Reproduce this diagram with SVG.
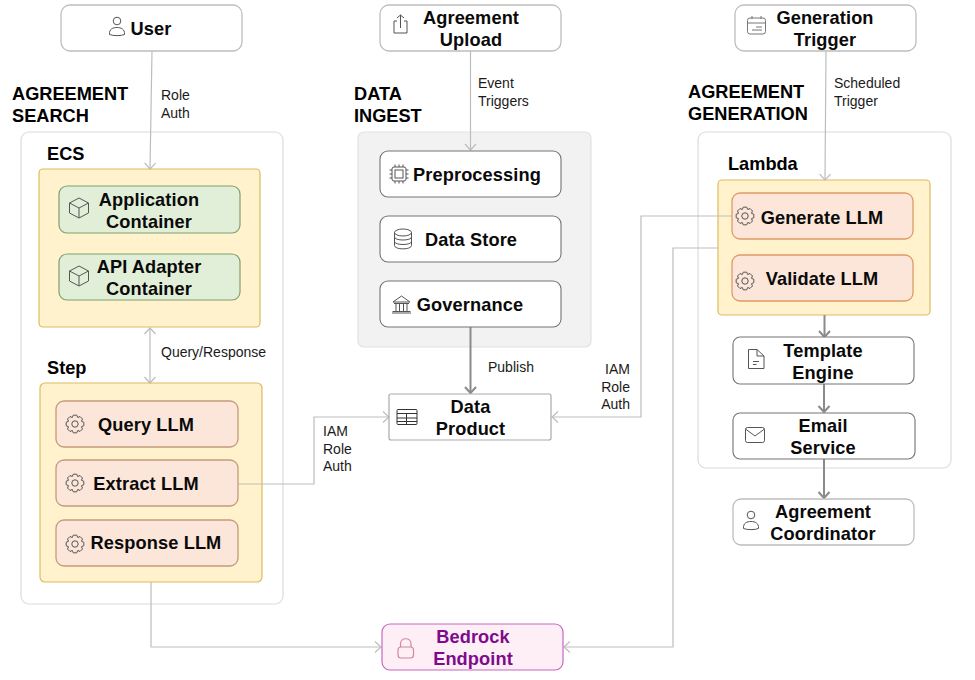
<svg xmlns="http://www.w3.org/2000/svg" xmlns:xlink="http://www.w3.org/1999/xlink" width="975" height="680" viewBox="0 0 975 680">
<style>
text{font-family:"Liberation Sans",Arial,sans-serif;fill:#000}
.t{font-size:18.2px;font-weight:700;text-anchor:middle;fill:#0a0a0a;letter-spacing:.12px}
.h{font-size:18.2px;font-weight:700}
.l{font-size:14px;fill:#1a1a1a}
.r{text-anchor:end}
.grp{fill:#fff;stroke:#dcdcdc;stroke-width:1.2}
.yel{fill:#fff2cc;stroke:#dcbc60;stroke-width:1.2}
.gn{fill:#e1efd9;stroke:#7f9f6f;stroke-width:1.2}
.or{fill:#fbe6d9;stroke:#c49a7c;stroke-width:1.3}
.or2{fill:#fbe6d9;stroke:#e09a68;stroke-width:1.3}
.lt{fill:#fff;stroke:#bdbdbd;stroke-width:1.3}
.dk{fill:#fff;stroke:#747474;stroke-width:1.1}
.ic{fill:none;stroke:#555;stroke-width:1}
.c{fill:none;stroke:#bdbdbd;stroke-width:1.2}
.c2{fill:none;stroke:#8a8a8a;stroke-width:2}
</style>
<defs>
<marker id="a" markerUnits="userSpaceOnUse" markerWidth="14" markerHeight="14" refX="11" refY="7" orient="auto-start-reverse"><path d="M5 1.5L11 7L5 12.5" fill="none" stroke="#bdbdbd" stroke-width="1.2"/></marker>
<marker id="b" markerUnits="userSpaceOnUse" markerWidth="14" markerHeight="14" refX="11" refY="7" orient="auto"><path d="M5 1.5L11 7L5 12.5" fill="none" stroke="#8a8a8a" stroke-width="2"/></marker>
<g id="gear" class="ic"><path d="M1.72-8.83L2.68-6.47L5.03-7.46L7.46-5.03L6.47-2.68L8.83-1.72L8.83 1.72L6.47 2.68L7.46 5.03L5.03 7.46L2.68 6.47L1.72 8.83L-1.72 8.83L-2.68 6.47L-5.03 7.46L-7.46 5.03L-6.47 2.68L-8.83 1.72L-8.83-1.72L-6.47-2.68L-7.46-5.03L-5.03-7.46L-2.68-6.47L-1.72-8.83Z" stroke-linejoin="round"/><circle r="3.2"/></g>
<g id="cube" class="ic"><path d="M0-10L9.5-5V5L0 10L-9.5 5V-5ZM-9.5-5L0 0L9.5-5M0 0V10" stroke-linejoin="round"/></g>
<g id="person" class="ic"><circle cy="-6" r="3.8"/><path d="M-7.5 7.5C-8 2 -4 .5 0 .5C4 .5 8 2 7.5 7.5C4 9 -4 9 -7.5 7.5Z"/></g>
</defs>

<g id="group-search"><rect class="grp" x="21" y="132" width="262" height="472" rx="8"/><text class="h" x="12" y="100">AGREEMENT</text><text class="h" x="12" y="122">SEARCH</text></g>
<g id="group-ingest"><rect x="358" y="132" width="233" height="215" rx="6" fill="#f2f2f2" stroke="#e2e2e2" stroke-width="1.2"/><text class="h" x="354" y="100">DATA</text><text class="h" x="354" y="122">INGEST</text></g>
<g id="group-generation"><rect class="grp" x="698" y="132" width="253" height="336" rx="8"/><text class="h" x="688" y="98">AGREEMENT</text><text class="h" x="688" y="120">GENERATION</text></g>
<g id="ecs"><rect class="yel" x="39" y="169" width="221" height="158" rx="4"/><text class="h" x="47" y="160">ECS</text></g>
<g id="step"><rect class="yel" x="40" y="383" width="222" height="199" rx="5"/><text class="h" x="47" y="374">Step</text></g>
<g id="lambda"><rect class="yel" x="718" y="180" width="212" height="135" rx="4"/><text class="h" x="728" y="170">Lambda</text></g>

<g id="connectors">
<path class="c" d="M152 51L150 169" marker-end="url(#a)"/>
<path class="c" d="M470.500 51V150" marker-end="url(#a)"/>
<path class="c" d="M826 51L825 180" marker-end="url(#a)"/>
<path class="c" d="M150 328V383" marker-start="url(#a)" marker-end="url(#a)"/>
<path class="c2" d="M470.500 327V393" marker-end="url(#b)"/>
<path class="c" d="M238 484H314V417H389" marker-end="url(#a)"/>
<path class="c" d="M732 216H641V417H552" marker-end="url(#a)"/>
<path class="c" d="M718 248H673V647H564" marker-end="url(#a)"/>
<path class="c" d="M151 582V647H381" marker-end="url(#a)"/>
<path class="c2" d="M824.500 315V337" marker-end="url(#b)"/>
<path class="c2" d="M824 384V412" marker-end="url(#b)"/>
<path class="c2" d="M824 459V498" marker-end="url(#b)"/>
</g>

<g id="connector-labels">
<text class="l" x="161" y="100">Role</text><text class="l" x="161" y="118">Auth</text>
<text class="l" x="478" y="88">Event</text><text class="l" x="478" y="106">Triggers</text>
<text class="l" x="834" y="88">Scheduled</text><text class="l" x="834" y="106">Trigger</text>
<text class="l" x="161" y="357">Query/Response</text>
<text class="l" x="488" y="372">Publish</text>
<text class="l r" x="630" y="374">IAM</text><text class="l r" x="630" y="392">Role</text><text class="l r" x="630" y="409">Auth</text>
<text class="l" x="323" y="436">IAM</text><text class="l" x="323" y="454">Role</text><text class="l" x="323" y="471">Auth</text>
</g>

<g id="user"><rect class="lt" x="61" y="5" width="181" height="46" rx="9"/><use xlink:href="#person" href="#person" x="117" y="27"/><text class="t" x="151" y="35">User</text></g>
<g id="upload"><rect class="lt" x="380" y="5" width="181" height="46" rx="9"/><path class="ic" d="M397 21H394V33H407V21H404M400.500 28V15M397 18L400.500 15L404 18"/><text class="t" x="471" y="24">Agreement</text><text class="t" x="471" y="46">Upload</text></g>
<g id="trigger"><rect class="lt" x="735" y="5" width="181" height="46" rx="9"/><g fill="none" stroke="#777" stroke-width="1"><rect x="747.500" y="18" width="18" height="16" rx="2.500"/><path d="M747.500 23H765.500M752 16V19M761 16V19M752 30H762M756 27H762"/></g><text class="t" x="825" y="24">Generation</text><text class="t" x="825" y="46">Trigger</text></g>

<g id="app"><rect class="gn" x="59" y="186" width="181" height="47" rx="8"/><use xlink:href="#cube" href="#cube" x="79" y="208"/><text class="t" x="149" y="206">Application</text><text class="t" x="149" y="228">Container</text></g>
<g id="api"><rect class="gn" x="59" y="254" width="181" height="46" rx="8"/><use xlink:href="#cube" href="#cube" x="79" y="276"/><text class="t" x="149" y="273">API Adapter</text><text class="t" x="149" y="295">Container</text></g>
<g id="query"><rect class="or" x="56" y="401" width="182" height="46" rx="8"/><use xlink:href="#gear" href="#gear" x="75" y="424"/><text class="t" x="146" y="431">Query LLM</text></g>
<g id="extract"><rect class="or" x="56" y="460" width="182" height="46" rx="8"/><use xlink:href="#gear" href="#gear" x="75" y="483"/><text class="t" x="146" y="490">Extract LLM</text></g>
<g id="response"><rect class="or" x="56" y="520" width="182" height="46" rx="8"/><use xlink:href="#gear" href="#gear" x="75" y="544"/><text class="t" x="156" y="549">Response LLM</text></g>

<g id="preprocessing"><rect class="dk" x="380" y="151" width="181" height="46" rx="8"/><g class="ic"><rect x="392" y="167" width="14" height="14" rx="2"/><rect x="395" y="170" width="8" height="8"/><path d="M395 164.500V167M399 164.500V167M403 164.500V167M395 181V183.500M399 181V183.500M403 181V183.500M389.500 170H392M389.500 174H392M389.500 178H392M406 170H408.500M406 174H408.500M406 178H408.500"/></g><text class="t" x="477" y="181">Preprocessing</text></g>
<g id="datastore"><rect class="dk" x="380" y="216" width="181" height="46" rx="8"/><g class="ic"><ellipse cx="403" cy="232.500" rx="8.500" ry="3.500"/><path d="M394.500 232.500V245.500C394.500 250 411.500 250 411.500 245.500V232.500M394.500 237C394.500 241 411.500 241 411.500 237M394.500 241.500C394.500 245.500 411.500 245.500 411.500 241.500"/></g><text class="t" x="471" y="246">Data Store</text></g>
<g id="governance"><rect class="dk" x="380" y="281" width="181" height="46" rx="8"/><g class="ic"><path d="M393 302L401.500 296L410 302ZM394 303.500H409M396 304V311M399.500 304V311M403.500 304V311M407 304V311M392.500 311.500H410.500M392 313H411"/></g><text class="t" x="470" y="311">Governance</text></g>
<g id="dataproduct"><rect x="389" y="394" width="162" height="46" rx="2" fill="#fff" stroke="#aaa" stroke-width="1.2"/><g fill="none" stroke="#333" stroke-width="1"><rect x="397" y="409.500" width="20" height="15" rx="1"/><path d="M397 413.500H417M397 418H417M397 421.500H417M406.500 413.500V424.500"/></g><text class="t" x="470.500" y="413">Data</text><text class="t" x="470.500" y="435">Product</text></g>
<g id="bedrock"><rect x="382" y="624" width="181" height="46" rx="8" fill="#fdeff5" stroke="#c867c0" stroke-width="1.2"/><g fill="none" stroke="#d08a9c" stroke-width="1.2"><rect x="398" y="647" width="15.500" height="11" rx="3"/><path d="M400.500 647V644C400.500 637 411 637 411 644V647"/></g><text class="t" x="473" y="643" style="fill:#800a8c">Bedrock</text><text class="t" x="473" y="665" style="fill:#800a8c">Endpoint</text></g>

<g id="generate"><rect class="or2" x="732" y="193" width="181" height="46" rx="8"/><use xlink:href="#gear" href="#gear" x="745" y="216"/><text class="t" x="822" y="224">Generate LLM</text></g>
<g id="validate"><rect class="or2" x="732" y="255" width="181" height="46" rx="8"/><use xlink:href="#gear" href="#gear" x="745" y="281"/><text class="t" x="822" y="285">Validate LLM</text></g>
<g id="template"><rect class="dk" x="733" y="337" width="181" height="47" rx="7"/><path class="ic" d="M748.500 349.500H757L764 356V368.500H748.500ZM757 349.500V356H764M753 361.500H759M753 364.500H756.500"/><text class="t" x="823" y="357">Template</text><text class="t" x="823" y="379">Engine</text></g>
<g id="email"><rect class="dk" x="733" y="413" width="182" height="46" rx="7"/><g class="ic"><rect x="745.500" y="427.500" width="19" height="15" rx="2"/><path d="M745.500 429L755 436L764.500 429"/></g><text class="t" x="823" y="432">Email</text><text class="t" x="823" y="454">Service</text></g>
<g id="coordinator"><rect class="lt" x="733" y="499" width="181" height="46" rx="8"/><use xlink:href="#person" href="#person" x="751" y="521"/><text class="t" x="823" y="518">Agreement</text><text class="t" x="823" y="540">Coordinator</text></g>
</svg>
